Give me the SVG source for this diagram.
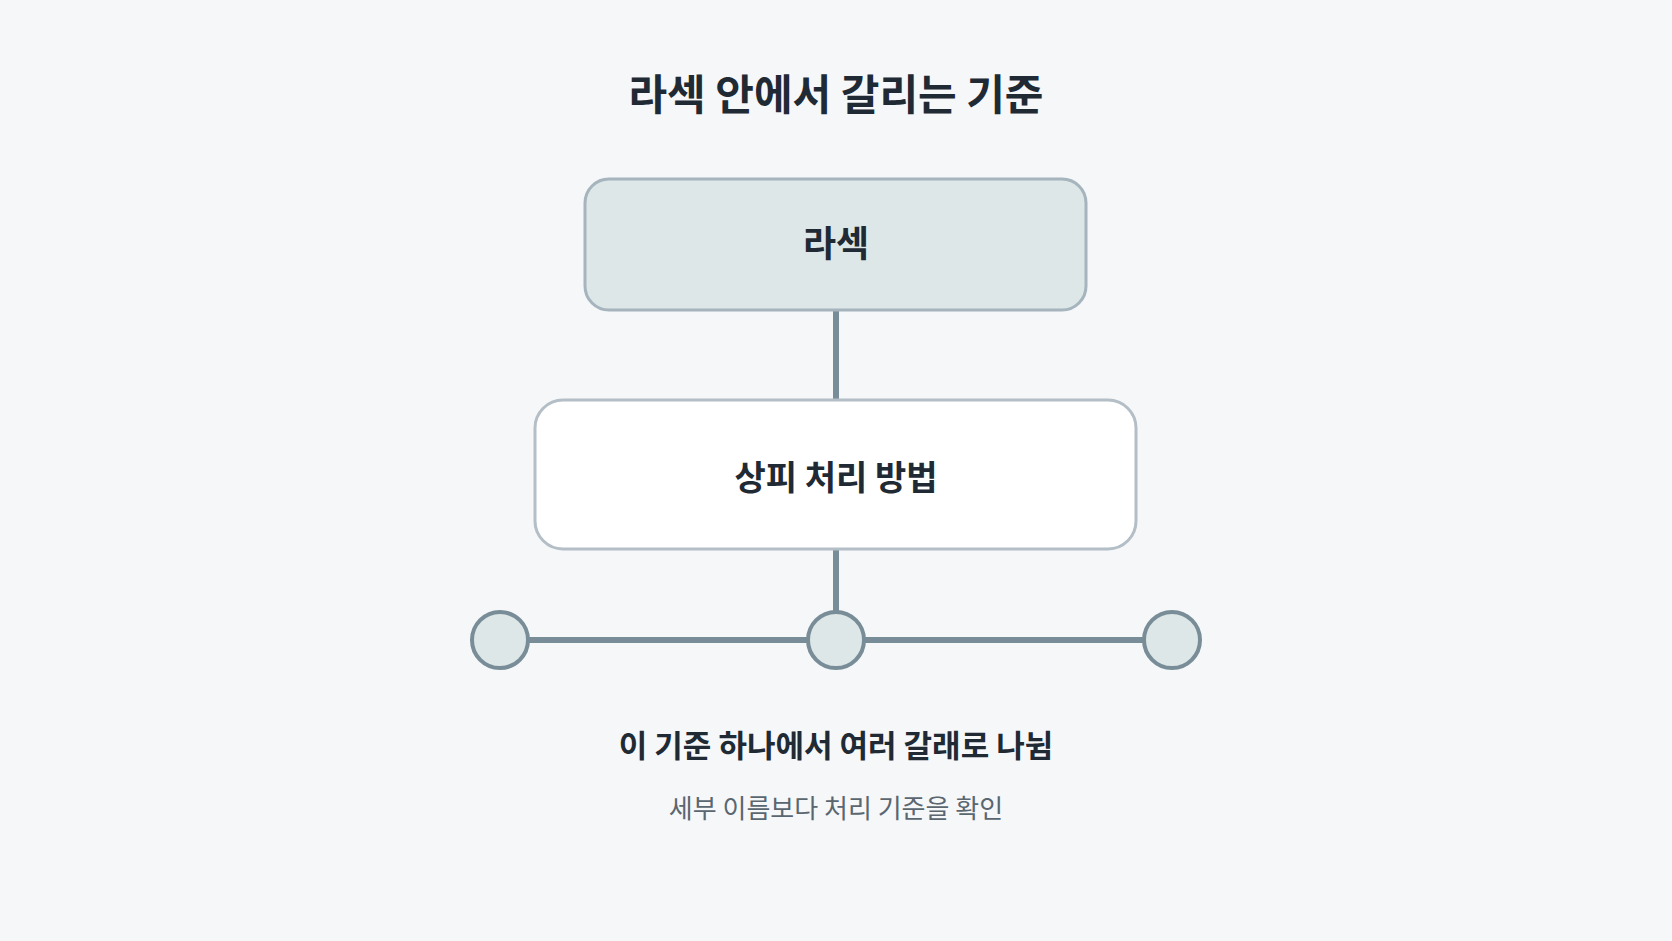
<svg xmlns="http://www.w3.org/2000/svg" width="1672" height="941" viewBox="0 0 1672 941">
<style>
text{font-family:"Noto Sans CJK KR","Noto Sans",sans-serif;text-anchor:middle;fill:#1f2a35}
.b{font-weight:700}
.ln{stroke:#788d97;stroke-width:6;fill:none}
.c{fill:#dde7e7;stroke:#788d97;stroke-width:4}
</style>
<rect width="1672" height="941" fill="#f5f7f9"/>
<text class="b" x="836" y="110" font-size="42">라섹 안에서 갈리는 기준</text>
<g id="connectors">
<line class="ln" x1="836" y1="310" x2="836" y2="400"/>
<line class="ln" x1="836" y1="549" x2="836" y2="612"/>
<line class="ln" x1="500" y1="640" x2="1172" y2="640"/>
</g>
<g id="node-lasek"><rect x="585" y="179" width="501" height="131" rx="24" fill="#dde7e7" stroke="#a5b4bd" stroke-width="3"/><text class="b" x="836" y="257" font-size="36">라섹</text></g>
<g id="node-method"><rect x="535" y="400" width="601" height="149" rx="28" fill="#ffffff" stroke="#b3bec6" stroke-width="3"/><text class="b" x="836" y="490" font-size="34">상피 처리 방법</text></g>
<g id="dot-1"><circle class="c" cx="500" cy="640" r="28"/></g>
<g id="dot-2"><circle class="c" cx="836" cy="640" r="28"/></g>
<g id="dot-3"><circle class="c" cx="1172" cy="640" r="28"/></g>
<text class="b" x="836" y="757" font-size="31">이 기준 하나에서 여러 갈래로 나뉨</text>
<text x="836" y="818" font-size="26" style="fill:#5a6670">세부 이름보다 처리 기준을 확인</text>
</svg>
